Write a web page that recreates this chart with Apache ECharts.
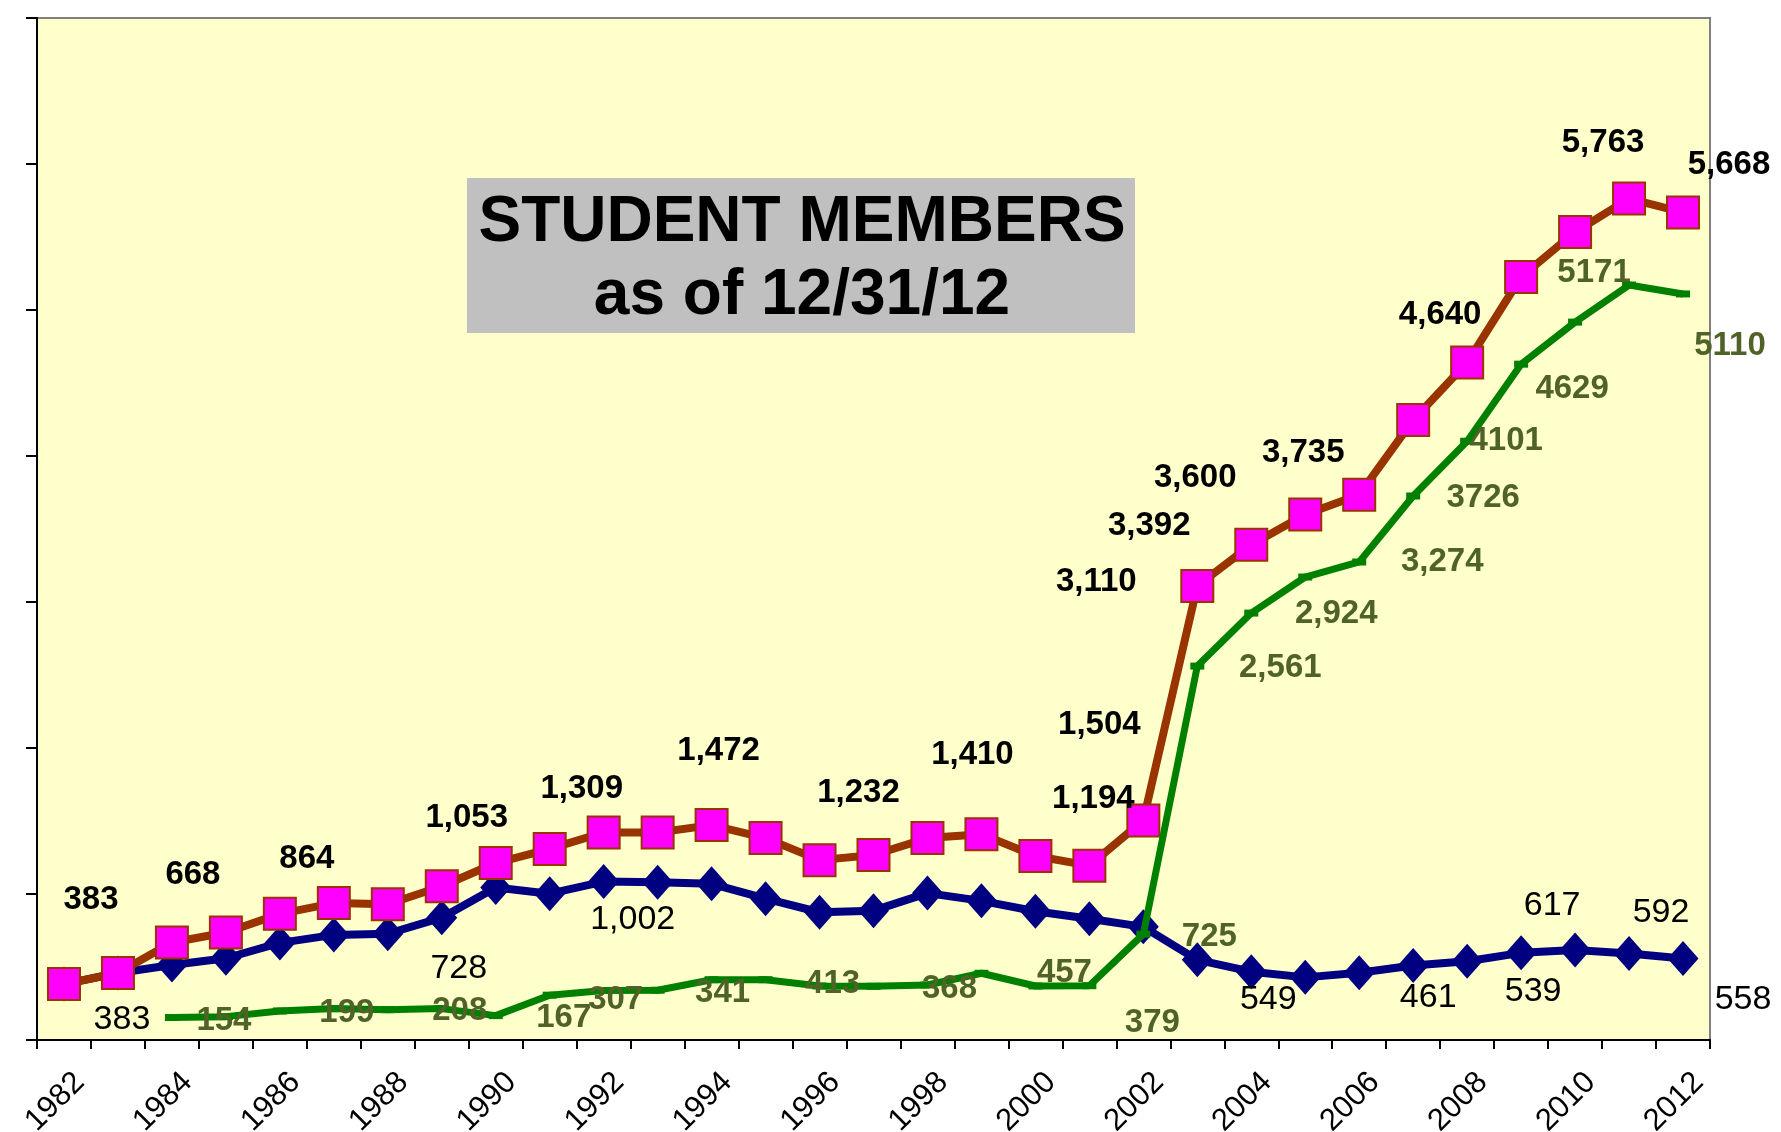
<!DOCTYPE html>
<html>
<head>
<meta charset="utf-8">
<script src="https://cdn.jsdelivr.net/npm/echarts@6/dist/echarts.min.js"></script>
<style>
  html, body { margin: 0; padding: 0; background: #fff; }
  #chart { width: 1781px; height: 1132px; }
</style>
</head>
<body>
<div id="chart"></div>
<script>
// years on the category axis
const years = ['1982','1983','1984','1985','1986','1987','1988','1989','1990','1991',
  '1992','1993','1994','1995','1996','1997','1998','1999','2000','2001',
  '2002','2003','2004','2005','2006','2007','2008','2009','2010','2011','2012']

// total student members (magenta squares)
const totalValues = [383, 459, 668, 736, 864, 938, 930, 1053, 1212, 1309,
  1421, 1421, 1472, 1383, 1232, 1267, 1383, 1410, 1260, 1194,
  1504, 3110, 3392, 3600, 3735, 4246, 4640, 5226, 5534, 5763, 5668]

// navy diamonds
const blueValues = [383, 459, 514, 560, 665, 720, 728, 838, 1045, 1002,
  1085, 1080, 1070, 968, 875, 886, 1006, 953, 882, 830,
  775, 549, 468, 429, 461, 510, 539, 597, 617, 592, 558]

// green line (starts 1984)
const greenValues = [null, null, 154, 160, 199, 215, 208, 215, 167, 307,
  339, 341, 413, 413, 370, 368, 377, 457, 370, 372,
  725, 2561, 2924, 3171, 3274, 3726, 4101, 4629, 4917, 5171, 5110]

// label texts as printed on the chart (null = no label)
const totalLabels = ['383', null, '668', null, '864', null, null, '1,053', null, '1,309',
  null, null, '1,472', null, '1,232', null, null, '1,410', null, '1,194',
  '1,504', '3,110', '3,392', '3,600', '3,735', null, '4,640', null, null, '5,763', '5,668']
const blueLabels = ['383', null, null, null, null, null, '728', null, null, '1,002',
  null, null, null, null, null, null, null, null, null, null,
  null, '549', null, null, '461', null, '539', null, '617', '592', '558']
const greenLabels = [null, null, '154', null, '199', null, '208', null, '167', '307',
  null, '341', null, '413', null, '368', null, '457', null, '379',
  '725', '2,561', '2,924', null, '3,274', '3726', '4101', '4629', null, '5171', '5110']

// label placement (pixel offsets from the point)
const totalOffsets = [[27,-84],null,[21,-68],null,[27,-55],null,null,[25,-68],null,[32,-60],
  null,null,[7,-74],null,[39,-67],null,null,[-9,-79],null,[4,-67],
  [-44,-96],[-101,-4],[-102,-19],[-110,-36],[-56,-42],null,[-27,-48],null,null,[-26,-56],[46,-48]]
const blueOffsets = [[58,36],null,null,null,null,null,[71,35],null,null,[83,26],
  null,null,null,null,null,null,null,null,null,null,
  null,[71,40],null,null,[69,25],null,[66,30],null,[-23,-44],[32,-41],[60,41]]
const greenOffsets = [null,null,[52,3],null,[67,2],null,[72,1],null,[68,2],[66,5],
  null,[65,3],null,[67,4],null,[76,3],null,[83,0],null,[63,37],
  [66,3],[83,2],[85,1],null,[83,0],[70,2],[39,0],[51,25],null,[-35,-12],[47,52]]

function withLabels(values, labels, offsets, style) {
  return values.map((v, i) => {
    if (labels[i] == null) return v
    return {
      value: v,
      label: Object.assign({
        show: true,
        position: 'inside',
        align: 'center',
        verticalAlign: 'middle',
        formatter: labels[i],
        offset: offsets[i]
      }, style)
    }
  })
}

const labelFont = "'Liberation Sans', Arial, sans-serif"

const chart = echarts.init(document.getElementById('chart'), null, { renderer: 'canvas' })

chart.setOption({
  animation: false,
  backgroundColor: '#ffffff',
  grid: {
    left: 37,
    right: 71,
    top: 18,
    bottom: 92,
    containLabel: false,
    outerBoundsMode: 'none',
    show: true,
    backgroundColor: '#FFFFCC',
    borderColor: '#808080',
    borderWidth: 2
  },
  xAxis: {
    type: 'category',
    data: years,
    boundaryGap: true,
    axisLine: { lineStyle: { color: '#000', width: 2 } },
    axisTick: { show: true, interval: 0, length: 9, lineStyle: { color: '#000', width: 2 } },
    axisLabel: {
      interval: 1,
      rotate: 45,
      margin: 22,
      color: '#000',
      fontSize: 31,
      lineHeight: 44,
      verticalAlign: 'top',
      fontFamily: labelFont
    },
    splitLine: { show: false }
  },
  yAxis: {
    type: 'value',
    min: 0,
    max: 7000,
    interval: 1000,
    axisLine: { show: true, lineStyle: { color: '#000', width: 2 } },
    axisTick: { show: true, length: 11, lineStyle: { color: '#000', width: 2 } },
    axisLabel: { show: false },
    splitLine: { show: false }
  },
  series: [
    {
      name: 'blue',
      type: 'line',
      data: withLabels(blueValues, blueLabels, blueOffsets, {
        color: '#000', fontSize: 34, fontFamily: labelFont
      }),
      symbol: 'diamond',
      symbolSize: [31, 35],
      showAllSymbol: true,
      itemStyle: { color: '#000080' },
      lineStyle: { color: '#000080', width: 8 },
      z: 2
    },
    {
      name: 'total',
      type: 'line',
      data: withLabels(totalValues, totalLabels, totalOffsets, {
        color: '#000', fontSize: 33, fontWeight: 'bold', fontFamily: labelFont
      }),
      symbol: 'rect',
      symbolSize: 32,
      showAllSymbol: true,
      itemStyle: { color: '#FF00FF', borderColor: '#993300', borderWidth: 2 },
      lineStyle: { color: '#993300', width: 8 },
      z: 3
    },
    {
      name: 'green',
      type: 'line',
      data: withLabels(greenValues, greenLabels, greenOffsets, {
        color: '#4F6228', fontSize: 33, fontWeight: 'bold', fontFamily: labelFont
      }),
      symbol: 'rect',
      symbolSize: [14, 7],
      showAllSymbol: true,
      itemStyle: { color: '#008000' },
      lineStyle: { color: '#008000', width: 7 },
      z: 4
    }
  ],
  graphic: [
    {
      type: 'rect',
      left: 467,
      top: 178,
      shape: { width: 668, height: 155 },
      style: { fill: '#C0C0C0' },
      z: 10
    },
    {
      type: 'text',
      x: 802,
      y: 260,
      style: {
        text: 'STUDENT MEMBERS\nas of 12/31/12',
        fill: '#000',
        font: "bold 64px 'Liberation Sans', Arial, sans-serif",
        lineHeight: 73,
        align: 'center',
        verticalAlign: 'middle'
      },
      z: 11
    }
  ]
})
</script>
</body>
</html>
